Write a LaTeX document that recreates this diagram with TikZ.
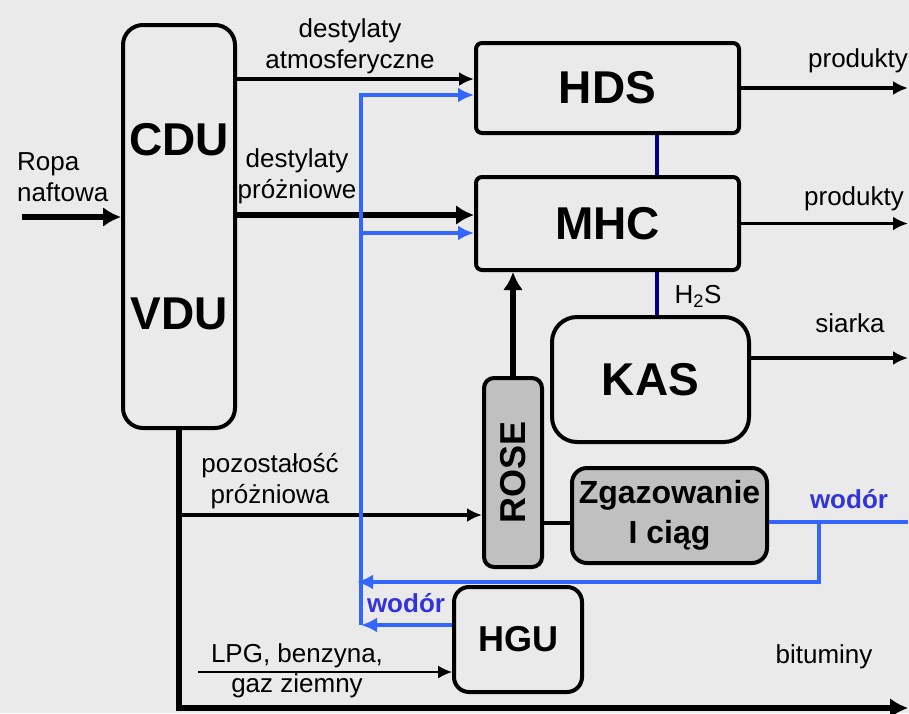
\documentclass[tikz,border=0pt]{standalone}
\usepackage{fontspec}
\setmainfont{Liberation Sans}
\usetikzlibrary{positioning,arrows.meta}
\definecolor{tlo}{HTML}{EAEAEA}
\definecolor{wodor}{HTML}{3366FF}
\definecolor{wodortxt}{HTML}{3333DD}
\definecolor{siarkowodor}{HTML}{000080}
\definecolor{szary}{HTML}{C0C0C0}

\begin{document}
\begin{tikzpicture}[x=1pt,y=-1pt,
proc/.style={
	draw,
	line width=4pt,
	rounded corners=6pt,
	inner sep=0pt,
	align=center,
	font=\bfseries\fontsize{46}{50}\selectfont
},
opis/.style={
	inner sep=0pt,
	align=center,
	font=\fontsize{26}{31}\selectfont
},
opisw/.style={
	opis,
	text=wodortxt,
	font=\bfseries\fontsize{26}{31}\selectfont
},
strz/.style={line width=3.5pt,-{Latex[length=15pt,width=14pt]}},
gruba/.style={line width=6pt,-{Latex[length=18pt,width=20pt]}},
cienka/.style={line width=1.5pt,-{Latex[length=14pt,width=13pt]}},
h2/.style={draw=wodor,line width=4pt,-{Latex[length=16pt,width=15pt]}}
]
\useasboundingbox (0,0) rectangle (909,713);
\fill[tlo] (0,0) rectangle (909,713);

\node[proc,rounded corners=20pt,minimum width=112pt,minimum height=403pt] 
(cdu) at (179,226.5) {CDU\\[124pt]VDU};
\node[proc,minimum width=263pt,minimum height=90pt] 
(hds) at (607.5,88) {HDS};
\node[proc,minimum width=263pt,minimum height=93pt] 
(mhc) at (607.5,223.5) {MHC};
\node[proc,rounded corners=25pt,minimum width=197pt,minimum height=125pt] 
(kas) at (650.5,379.5) {KAS};
\node[proc,fill=szary,rounded corners=10pt,minimum width=58pt,minimum height=189pt,
font=\bfseries\fontsize{36}{40}\selectfont] 
(rose) at (513,472.5) {\rotatebox{90}{ROSE}};
\node[proc,fill=szary,rounded corners=15pt,minimum width=195pt,minimum height=95pt,
font=\bfseries\fontsize{32}{40}\selectfont] 
(zg) at (669.5,515.5) {Zgazowanie\\I ciąg};
\node[proc,rounded corners=15pt,minimum width=128pt,minimum height=105pt,
font=\bfseries\fontsize{36}{40}\selectfont] 
(hgu) at (518,639.5) {HGU};

\node[opis,align=left,anchor=west] (ropa) at (17,177.5) {Ropa\\naftowa};
\node[opis] (datm) at (350,46.5) {destylaty\\atmosferyczne};
\node[opis] (dprz) at (297,176.5) {destylaty\\próżniowe};
\node[opis] (poz) at (270,481.5) {pozostałość\\próżniowa};
\node[opis,anchor=base] (prod1) at (858,67) {produkty};
\node[opis,anchor=base] (prod2) at (854,205) {produkty};
\node[opis,anchor=base] (h2s) at (698,303) {H\textsubscript{2}S};
\node[opis,anchor=base] (siarka) at (850,332) {siarka};
\node[opisw,anchor=base] (wod1) at (849,508) {wodór};
\node[opisw,anchor=base] (wod2) at (406,612) {wodór};
\node[opis,anchor=base] (bit) at (824,663) {bituminy};
\node[opis,anchor=base] (lpg1) at (297,662) {LPG, benzyna,};
\node[opis,anchor=base] (lpg2) at (297,692) {gaz ziemny};

\coordinate (prawo) at (908,0);
\coordinate (wej) at (22,217);
\coordinate (h2g) at (361,95);
\coordinate (h2d) at (361,625);
\coordinate (rozg) at (819,522);
\coordinate (powrot) at (357,582);
\coordinate (dol) at (0,708);
\coordinate (nv) at (657,0);
\coordinate (lpgst) at (198,0);
\coordinate (hdsin) at ([yshift=9pt]hds.west);
\coordinate (hdsh2) at ([yshift=-7pt]hds.west);
\coordinate (mhcin) at ([yshift=8.5pt]mhc.west);
\coordinate (mhch2) at ([yshift=-9.5pt]mhc.west);
\coordinate (kasout) at ([yshift=21.5pt]kas.east);
\coordinate (zgin) at ([yshift=-7.5pt]zg.west);
\coordinate (zgout) at ([yshift=-6.5pt]zg.east);
\coordinate (hguout) at ([yshift=14.5pt]hgu.west);
\coordinate (lpgin) at ([yshift=-32.5pt]hgu.west);
\coordinate (pozin) at ([yshift=-42.5pt]rose.west);

\draw[gruba] (wej) -- (wej -| cdu.west);
\draw[strz] (hdsin -| cdu.east) -- (hdsin);
\draw[gruba] (mhcin -| cdu.east) -- (mhcin);
\draw[strz] (hds.east) -- (hds.east -| prawo);
\draw[strz] (mhc.east) -- (mhc.east -| prawo);
\draw[siarkowodor,line width=4pt] (hds.south -| nv) -- (mhc.north -| nv);
\draw[siarkowodor,line width=4pt] (mhc.south -| nv) -- (kas.north -| nv);
\draw[gruba] (rose.north) -- (rose.north |- mhc.south);
\draw[strz] (kasout) -- (kasout -| prawo);
\draw[line width=4pt] (zgin -| rose.east) -- (zgin);
\draw[strz] (pozin -| cdu.south) -- (pozin);
\draw[cienka] (lpgin -| lpgst) -- (lpgin);
\draw[gruba] (cdu.south) -- (cdu.south |- dol) -- (dol -| prawo);

\draw[h2] (h2d) -- (h2g) -- (hdsh2);
\draw[h2] (mhch2 -| h2g) -- (mhch2);
\draw[h2,-] (zgout) -- (zgout -| prawo);
\draw[h2] (rozg) |- (powrot);
\draw[h2] (hguout) -- (hguout -| h2d);

\end{tikzpicture}
\end{document}
